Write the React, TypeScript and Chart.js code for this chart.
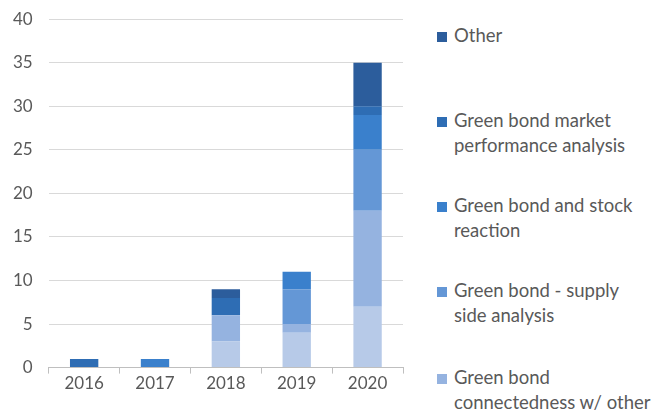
import React, { useEffect, useRef } from "react";
import { Chart, registerables } from "chart.js";

Chart.register(...registerables);

const years = ["2016", "2017", "2018", "2019", "2020"];
// Bottom-to-top stacking order
const unlabelledLightest = [0, 0, 3, 4, 7];
const connectedness = [0, 0, 3, 1, 11];
const supplySide = [0, 0, 0, 4, 7];
const stockReaction = [0, 1, 0, 2, 4];
const marketPerformance = [1, 0, 2, 0, 1];
const other = [0, 0, 1, 0, 5];

const yTicks = [0, 5, 10, 15, 20, 25, 30, 35, 40];

const seriesDefs = [
  { label: "", data: unlabelledLightest, color: "#b7cae8", legend: null as string[] | null },
  { label: "Green bond connectedness w/ other", data: connectedness, color: "#95b3e0", legend: ["Green bond", "connectedness w/ other"] },
  { label: "Green bond - supply side analysis", data: supplySide, color: "#6497d6", legend: ["Green bond - supply", "side analysis"] },
  { label: "Green bond and stock reaction", data: stockReaction, color: "#3a80cc", legend: ["Green bond and stock", "reaction"] },
  { label: "Green bond market performance analysis", data: marketPerformance, color: "#2e6db4", legend: ["Green bond market", "performance analysis"] },
  { label: "Other", data: other, color: "#2c5d9c", legend: ["Other"] },
];

const FONT = "Lato, 'Open Sans', sans-serif";
const TEXT = "#595959";

export default function App() {
  const ref = useRef<HTMLCanvasElement | null>(null);

  useEffect(() => {
    document.body.style.margin = "0";
    const ctx = ref.current!.getContext("2d")!;
    const chart = new Chart(ctx, {
      type: "bar",
      data: {
        labels: years,
        datasets: seriesDefs.map((s) => ({
          label: s.label,
          data: s.data,
          backgroundColor: s.color,
          borderWidth: 0,
          categoryPercentage: 1,
          barPercentage: 0.4,
        })),
      },
      options: {
        animation: false,
        responsive: false,
        maintainAspectRatio: false,
        layout: { padding: { left: -3, right: 17, top: 0, bottom: 18 } },
        plugins: { legend: { display: false }, tooltip: { enabled: false } },
        scales: {
          x: {
            stacked: true,
            offset: true,
            border: { display: true, color: "#bfbfbf", width: 1 },
            grid: {
              display: true,
              offset: true,
              drawOnChartArea: false,
              drawTicks: true,
              tickLength: 6,
              color: "#bfbfbf",
            },
            ticks: { color: TEXT, font: { family: FONT, size: 17 }, padding: 0 },
          },
          y: {
            stacked: true,
            min: 0,
            max: 40,
            afterBuildTicks: (axis: any) => {
              axis.ticks = yTicks.map((v) => ({ value: v }));
            },
            border: { display: false },
            grid: { color: "#d9d9d9", drawTicks: false, lineWidth: 1 },
            ticks: { color: TEXT, font: { family: FONT, size: 17 }, padding: 16 },
          },
        },
      },
    });
    return () => chart.destroy();
  }, []);

  const legendItems = seriesDefs.filter((s) => s.legend).slice().reverse();

  return (
    <div style={{ position: "fixed", left: 0, top: 0, width: 653, height: 412, background: "#fff", overflow: "hidden" }}>
      <canvas ref={ref} width={420} height={419} style={{ position: "absolute", left: 0, top: -7 }} />
      <div style={{ position: "absolute", left: 437, top: 22.5, fontFamily: FONT, fontSize: 18.5, color: TEXT }}>
        {legendItems.map((s, i) => (
          <div key={i} style={{ height: i === 3 ? 87 : 85, position: "relative" }}>
            <div style={{ position: "absolute", left: 0, top: 9, width: 10, height: 10, background: s.color }} />
            <div style={{ position: "absolute", left: 17, top: 0, lineHeight: "25px", whiteSpace: "nowrap" }}>
              {s.legend!.map((l, j) => (
                <div key={j}>{l}</div>
              ))}
            </div>
          </div>
        ))}
      </div>
    </div>
  );
}
